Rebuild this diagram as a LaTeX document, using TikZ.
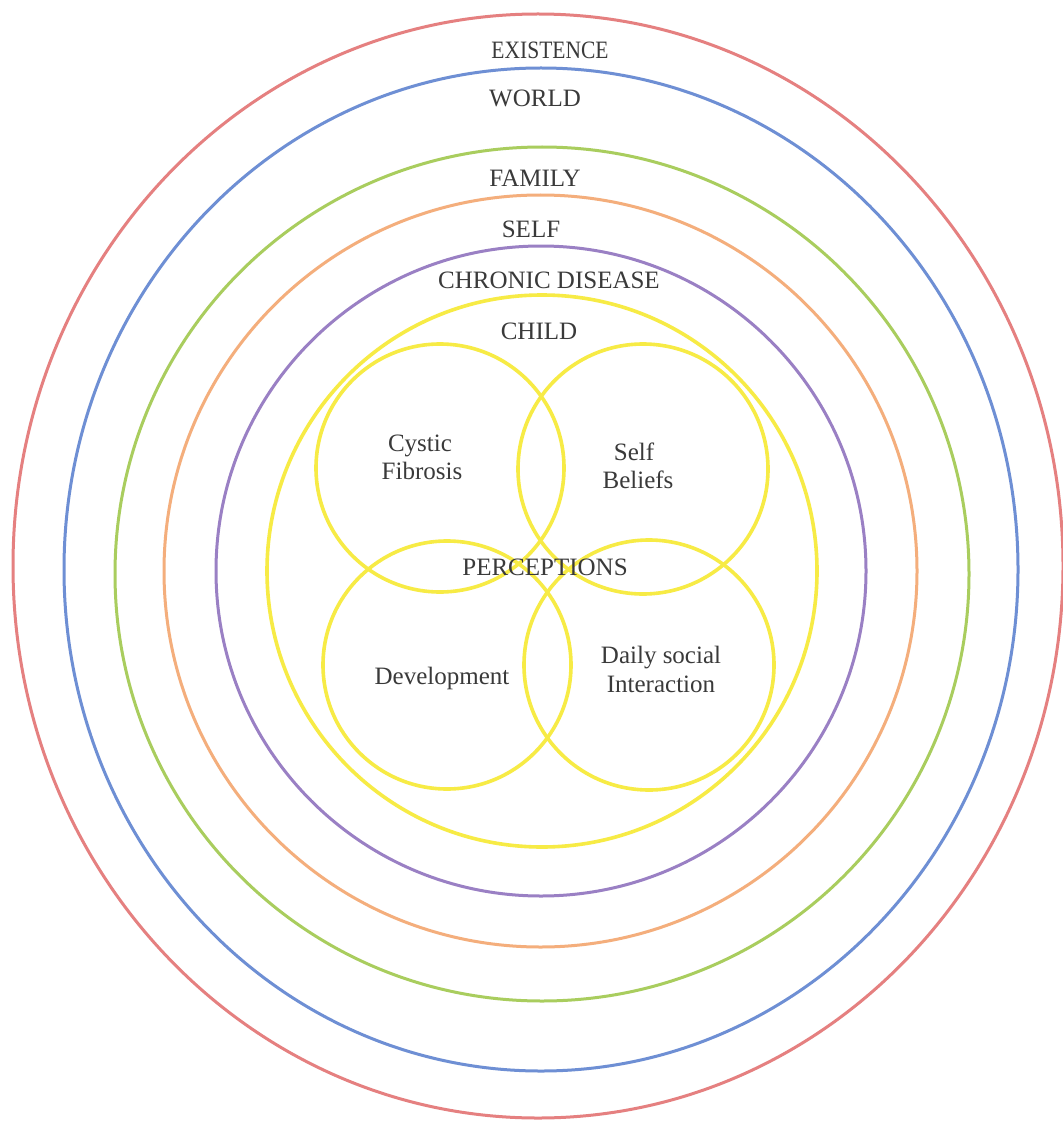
\documentclass[tikz,border=0pt]{standalone}
\usepackage{fontspec}
\setmainfont{Liberation Serif}
\definecolor{cred}{HTML}{E58080}
\definecolor{cblue}{HTML}{6E8FD4}
\definecolor{cgreen}{HTML}{A9CD5E}
\definecolor{corange}{HTML}{F4AE7C}
\definecolor{cpurple}{HTML}{9A80C4}
\definecolor{cyell}{HTML}{F7EB45}
\definecolor{ctext}{HTML}{3A3A3A}
\begin{document}
\begin{tikzpicture}[x=1pt,y=-1pt,
  ring/.style={line width=3pt},
  yring/.style={line width=3.6pt,draw=cyell},
  lbl/.style={anchor=base,text=ctext,font=\fontsize{25}{28}\selectfont,inner sep=0pt,align=center}]
\useasboundingbox[fill=white] (0,0) rectangle (1062,1123);
% concentric rings
\draw[ring,cred]    (538,566)   ellipse [x radius=525,   y radius=552];
\draw[ring,cblue]   (541,569.5) ellipse [x radius=477,   y radius=501.5];
\draw[ring,cgreen]  (542,574)   ellipse [x radius=427,   y radius=427];
\draw[ring,corange] (540.5,571) ellipse [x radius=376.5, y radius=376];
\draw[ring,cpurple] (541,571)   ellipse [x radius=325,   y radius=325];
\draw[yring]        (542,571)   ellipse [x radius=275,   y radius=276];
% four inner circles
\draw[yring] (440,468) circle [radius=124];
\draw[yring] (643,469) circle [radius=125];
\draw[yring] (447,665) circle [radius=124];
\draw[yring] (649,665) circle [radius=125];
% labels
\node[lbl] (existence) at (550,59) {\scalebox{0.86}[1]{EXISTENCE}};
\node[lbl] (world)     at (535,107) {WORLD};
\node[lbl] (family)    at (535,187) {FAMILY};
\node[lbl] (self)      at (531,237) {SELF};
\node[lbl] (chronic)   at (549,288) {CHRONIC DISEASE};
\node[lbl] (child)     at (539,339) {CHILD};
\node[lbl] (cystic)    at (420,451) {Cystic};
\node[lbl] (fibrosis)  at (422,479) {Fibrosis};
\node[lbl] (selfb)     at (634,460) {Self};
\node[lbl] (beliefs)   at (638,488) {Beliefs};
\node[lbl] (percep)    at (545,575) {PERCEPTIONS};
\node[lbl] (devel)     at (442,684) {Development};
\node[lbl] (daily)     at (661,663) {Daily social};
\node[lbl] (interact)  at (661,692) {Interaction};
\end{tikzpicture}
\end{document}
